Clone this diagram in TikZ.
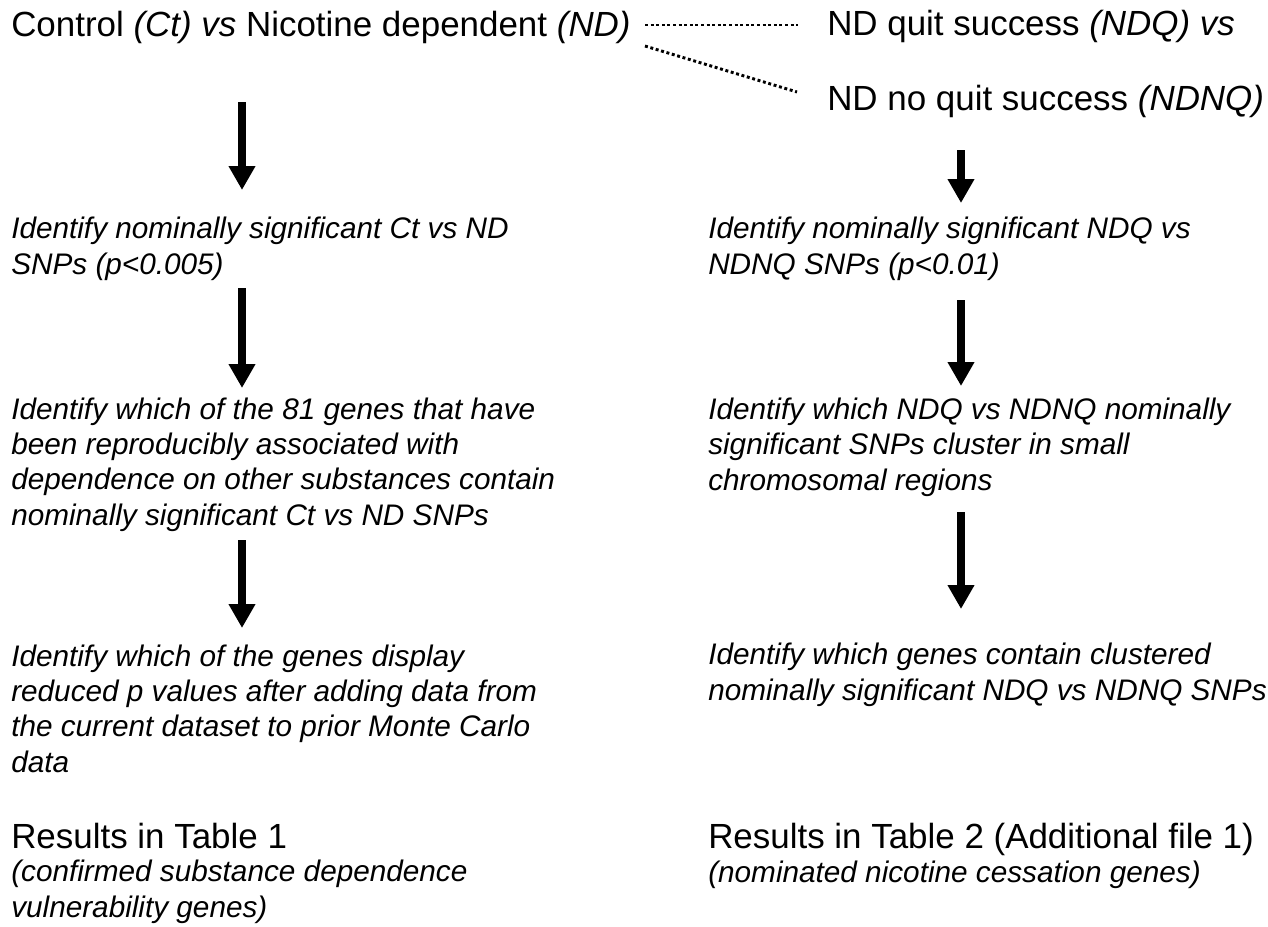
\documentclass[tikz,border=0pt]{standalone}
\usepackage{fontspec}
\setmainfont{Liberation Sans}
\usetikzlibrary{arrows.meta}
\begin{document}
\begin{tikzpicture}[x=0.75pt,y=-0.75pt,
  txt/.style={anchor=base west,inner sep=0pt,align=left,font=\fontsize{26.2}{26.5}\selectfont},
  itxt/.style={anchor=base west,inner sep=0pt,align=left,font=\fontsize{22.3}{26.5}\selectfont\itshape},
  bigarrow/.style={line width=6pt,-{Triangle[width=19pt,length=18pt]}},
  dots/.style={line width=2.2pt,dash pattern=on 2.2pt off 2pt}]
\useasboundingbox (0,0) rectangle (1268,926);
% titles (base anchor = baseline of last line)
\node[txt] (ct) at (11,36) {Control \textit{(Ct) vs} Nicotine dependent \textit{(ND)}};
\node[txt] (ndq) at (827,35) {ND quit success \textit{(NDQ) vs}};
\node[txt] (ndnq) at (827,110) {ND no quit success \textit{(NDNQ)}};
\coordinate (h1) at (645,25);
\coordinate (h2) at (798,25);
\coordinate (d1) at (645,46);
\coordinate (d2) at (797,92);
\draw[dots] (h1) -- (h2);
\draw[dots] (d1) -- (d2);
% left column
\node[itxt] (l2) at (11,274) {Identify nominally significant Ct vs ND\\SNPs (p<0.005)};
\node[itxt] (l3) at (11,525) {Identify which of the 81 genes that have\\been reproducibly associated with\\dependence on other substances contain\\nominally significant Ct vs ND SNPs};
\node[itxt] (l4) at (11,772) {Identify which of the genes display\\reduced p values after adding data from\\the current dataset to prior Monte Carlo\\data};
\node[txt] (l5) at (11,848) {Results in Table 1};
\node[itxt] (l6) at (11,917) {(confirmed substance dependence\\vulnerability genes)};
% right column
\node[itxt] (r2) at (708,274) {Identify nominally significant NDQ vs\\NDNQ SNPs (p<0.01)};
\node[itxt] (r3) at (708,490) {Identify which NDQ vs NDNQ nominally\\significant SNPs cluster in small\\chromosomal regions};
\node[itxt] (r4) at (708,700) {Identify which genes contain clustered\\nominally significant NDQ vs NDNQ SNPs};
\node[txt] (r5) at (708,848) {Results in Table 2 (Additional file 1)};
\node[itxt] (r6) at (708,882) {(nominated nicotine cessation genes)};
% arrows
\coordinate (la1) at (242,102); \coordinate (lb1) at (242,190);
\coordinate (la2) at (242,288); \coordinate (lb2) at (242,388);
\coordinate (la3) at (242,540); \coordinate (lb3) at (242,628);
\coordinate (ra1) at (961,150); \coordinate (rb1) at (961,203);
\coordinate (ra2) at (961,300); \coordinate (rb2) at (961,386);
\coordinate (ra3) at (961,512); \coordinate (rb3) at (961,609);
\foreach \a/\b in {la1/lb1,la2/lb2,la3/lb3,ra1/rb1,ra2/rb2,ra3/rb3}
  \draw[bigarrow] (\a) -- (\b);
\end{tikzpicture}
\end{document}
